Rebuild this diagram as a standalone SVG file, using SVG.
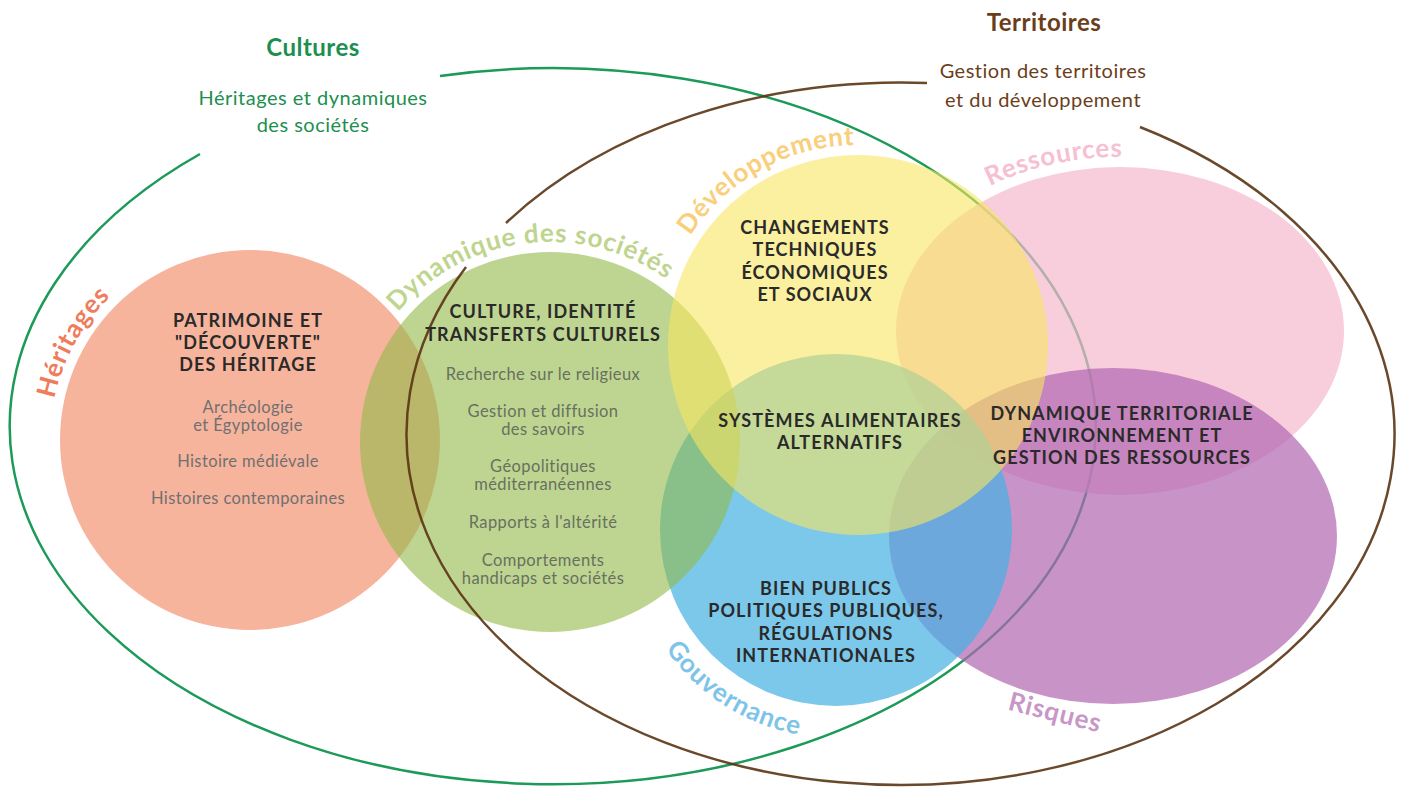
<svg xmlns="http://www.w3.org/2000/svg" width="1402" height="789" viewBox="0 0 1402 789">
<defs>
<style>
text{font-family:Lato,"Liberation Sans",sans-serif}
.h{font-weight:bold;font-size:18px;fill:#2a2a2a;text-anchor:middle;letter-spacing:1.1px}
.s{font-size:16.5px;fill:#707070;text-anchor:middle;letter-spacing:.4px}
.sg{font-size:16.5px;fill:#687060;text-anchor:middle;letter-spacing:.4px}
.lbl{font-weight:bold;font-size:26px;letter-spacing:.8px}
.zone{opacity:.7}
.zone6{opacity:.6}
.title{font-weight:bold;font-size:24px;text-anchor:middle;letter-spacing:.5px}
.sub{font-size:20px;text-anchor:middle;letter-spacing:.5px}
</style>
<path id="pHer" d="M 50 440 A 200 200 0 0 1 250 240"/>
<path id="pDyn" d="M 350 442 A 200 200 0 0 1 750 442"/>
<path id="pDev" d="M 658 345 A 200 200 0 0 1 1058 345"/>
<path id="pRes" d="M 886 330 A 234 173 0 0 1 1354 330"/>
<path id="pGou" d="M 628 530 A 208 208 0 0 0 1044 530"/>
</defs>
<rect width="1402" height="789" fill="#ffffff"/>

<g id="cultures">
<path d="M 440 76 A 543 358 0 1 1 200 154" fill="none" stroke="#1c9a58" stroke-width="2.5"/>
<text class="title" x="313" y="56" fill="#1c8f50">Cultures</text>
<text class="sub" x="313" y="105" fill="#1c8f50">Héritages et dynamiques</text>
<text class="sub" x="313" y="132" fill="#1c8f50">des sociétés</text>
</g>

<g id="heritages">
<circle class="zone" cx="250" cy="440" r="190" fill="#F49474"/>
</g>
<g id="ressources">
<ellipse class="zone" cx="1120" cy="331" rx="224" ry="164" fill="#F5B8CD"/>
</g>
<g id="risques">
<ellipse class="zone" cx="1113" cy="536" rx="224" ry="168" fill="#B066B0"/>
</g>
<g id="gouvernance">
<circle class="zone" cx="836" cy="530" r="176" fill="#45B0E2"/>
</g>
<g id="dynamique">
<circle class="zone6" cx="550" cy="442" r="190" fill="#93B948"/>
</g>
<g id="developpement">
<circle class="zone6" cx="858" cy="345" r="190" fill="#F7E661"/>
</g>

<g id="territoires">
<path d="M 1140 127 A 494 351 0 1 1 466 267" fill="none" stroke="#5a3414" stroke-width="2.5" opacity=".9"/>
<path d="M 506 223 A 494 351 0 0 1 927 83" fill="none" stroke="#5a3414" stroke-width="2.5" opacity=".9"/>
<text class="title" x="1044" y="31" fill="#6b3e1a">Territoires</text>
<text class="sub" x="1043" y="78" fill="#6b3e1a">Gestion des territoires</text>
<text class="sub" x="1043" y="107" fill="#6b3e1a">et du développement</text>
</g>

<g id="labels">
<text class="lbl" fill="#EF7C5C"><textPath href="#pHer" startOffset="101" text-anchor="middle">Héritages</textPath></text>
<text class="lbl" fill="#BFD58F"><textPath href="#pDyn" startOffset="290" text-anchor="middle">Dynamique des sociétés</textPath></text>
<text class="lbl" fill="#F9CF7C"><textPath href="#pDev" startOffset="213" text-anchor="middle">Développement</textPath></text>
<text class="lbl" fill="#F6BFD3"><textPath href="#pRes" startOffset="324" text-anchor="end">Ressources</textPath></text>
<text class="lbl" fill="#7EC4E8" font-size="28.5"><textPath href="#pGou" startOffset="208" text-anchor="middle">Gouvernance</textPath></text>
<text class="lbl" fill="#C897C8" font-size="28" text-anchor="middle" transform="translate(1053,721) rotate(14)">Risques</text>
</g>

<g id="heritages-text">
<text class="h" x="248" y="327">PATRIMOINE ET</text>
<text class="h" x="248" y="349">"DÉCOUVERTE"</text>
<text class="h" x="248" y="371">DES HÉRITAGE</text>
<text class="s" x="248" y="413">Archéologie</text>
<text class="s" x="248" y="431">et Égyptologie</text>
<text class="s" x="248" y="467">Histoire médiévale</text>
<text class="s" x="248" y="504">Histoires contemporaines</text>
</g>

<g id="dynamique-text">
<text class="h" x="543" y="318">CULTURE, IDENTITÉ</text>
<text class="h" x="543" y="341">TRANSFERTS CULTURELS</text>
<text class="sg" x="543" y="380">Recherche sur le religieux</text>
<text class="sg" x="543" y="417">Gestion et diffusion</text>
<text class="sg" x="543" y="435">des savoirs</text>
<text class="sg" x="543" y="472">Géopolitiques</text>
<text class="sg" x="543" y="490">méditerranéennes</text>
<text class="sg" x="543" y="528">Rapports à l'altérité</text>
<text class="sg" x="543" y="566">Comportements</text>
<text class="sg" x="543" y="584">handicaps et sociétés</text>
</g>

<g id="developpement-text">
<text class="h" x="815" y="234">CHANGEMENTS</text>
<text class="h" x="815" y="256">TECHNIQUES</text>
<text class="h" x="815" y="279">ÉCONOMIQUES</text>
<text class="h" x="815" y="301">ET SOCIAUX</text>
</g>

<g id="systemes">
<text class="h" x="840" y="427">SYSTÈMES ALIMENTAIRES</text>
<text class="h" x="840" y="449">ALTERNATIFS</text>
</g>

<g id="gouvernance-text">
<text class="h" x="826" y="595">BIEN PUBLICS</text>
<text class="h" x="826" y="617">POLITIQUES PUBLIQUES,</text>
<text class="h" x="826" y="640">RÉGULATIONS</text>
<text class="h" x="826" y="662">INTERNATIONALES</text>
</g>

<g id="territoriale-text">
<text class="h" x="1122" y="420">DYNAMIQUE TERRITORIALE</text>
<text class="h" x="1122" y="442">ENVIRONNEMENT ET</text>
<text class="h" x="1122" y="464">GESTION DES RESSOURCES</text>
</g>

<g id="connectors"/>
</svg>
